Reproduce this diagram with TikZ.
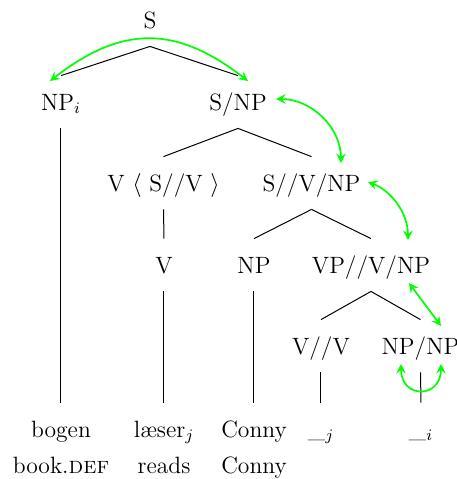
\documentclass[tikz,border=0pt]{standalone}
\usepackage{fontspec}
\usetikzlibrary{arrows.meta,calc}
\begin{document}
\begin{tikzpicture}[x=0.5pt,y=-0.5pt,
  lab/.style={anchor=base,inner xsep=2pt,inner ysep=7pt,text height=10pt,text depth=2pt,
    font=\fontsize{11.8}{14}\selectfont},
  word/.style={anchor=base,inner sep=0pt,font=\fontsize{11.8}{14}\selectfont},
  edge/.style={line width=0.5pt,black},
  link/.style={green,line width=0.85pt,{Stealth[length=4.8pt,width=4.8pt,inset=1.9pt]}-{Stealth[length=4.8pt,width=4.8pt,inset=1.9pt]}}]
\useasboundingbox (0,0) rectangle (457,479);
% tree nodes
\node[lab] (S) at (150,28) {S};
\node[lab] (NPi) at (61,110) {NP$_i$};
\node[lab] (SNP) at (238,110) {S/NP};
\node[lab] (VSV) at (163.5,191) {V $\langle$ S//V $\rangle$};
\node[lab] (SVNP) at (311.5,191) {S//V/NP};
\node[lab] (V) at (164,273) {V};
\node[lab] (NP) at (254,273) {NP};
\node[lab] (VPVNP) at (371,273) {VP//V/NP};
\node[lab] (VV) at (321,354) {V//V};
\node[lab] (NPNP) at (420.5,354) {NP/NP};
% leaves
\node[lab] (bogen) at (61,437) {bogen};
\node[lab] (laeser) at (164,437) {læser$_j$};
\node[lab] (conny) at (254,437) {Conny};
\node[lab] (gapj) at (321,437) {\_$_j$};
\node[lab] (gapi) at (421,437) {\_$_i$};
% glosses
\node[word] (g1) at (61,473) {book.\textsc{def}};
\node[word] (g2) at (164,473) {reads};
\node[word] (g3) at (254,473) {Conny};
% edges
\draw[edge] (S.south) -- (NPi.north);
\draw[edge] (S.south) -- (SNP.north);
\draw[edge] (NPi.south) -- (bogen.north);
\draw[edge] (SNP.south) -- (VSV.north);
\draw[edge] (SNP.south) -- (SVNP.north);
\draw[edge] (VSV.south) -- (V.north);
\draw[edge] (V.south) -- (laeser.north);
\draw[edge] (SVNP.south) -- (NP.north);
\draw[edge] (SVNP.south) -- (VPVNP.north);
\draw[edge] (NP.south) -- (conny.north);
\draw[edge] (VPVNP.south) -- (VV.north);
\draw[edge] (VPVNP.south) -- (NPNP.north);
\draw[edge] (VV.south) -- (gapj.north);
\draw[edge] (NPNP.south) -- (gapi.north);
% green links
\draw[link] ($(NPi.base)+(-11,-29)$) .. controls +(72,-56) and +(-72,-56) .. ($(SNP.base)+(10,-29)$);
\draw[link] ($(SNP.base)+(38,-11)$) .. controls +(36,0) and +(0,-35) .. ($(SVNP.base)+(29.5,-28)$);
\draw[link] ($(SVNP.base)+(56.5,-9)$) .. controls +(22,8) and +(0,-28) .. ($(VPVNP.base)+(37,-33)$);
\draw[link] ($(VPVNP.base)+(38,10)$) -- ($(NPNP.base)+(20.5,-28)$);
\draw[link] ($(NPNP.base)+(-19.5,10)$) .. controls +(0,35) and +(0,35) .. ($(NPNP.base)+(20.5,10)$);
\end{tikzpicture}
\end{document}
